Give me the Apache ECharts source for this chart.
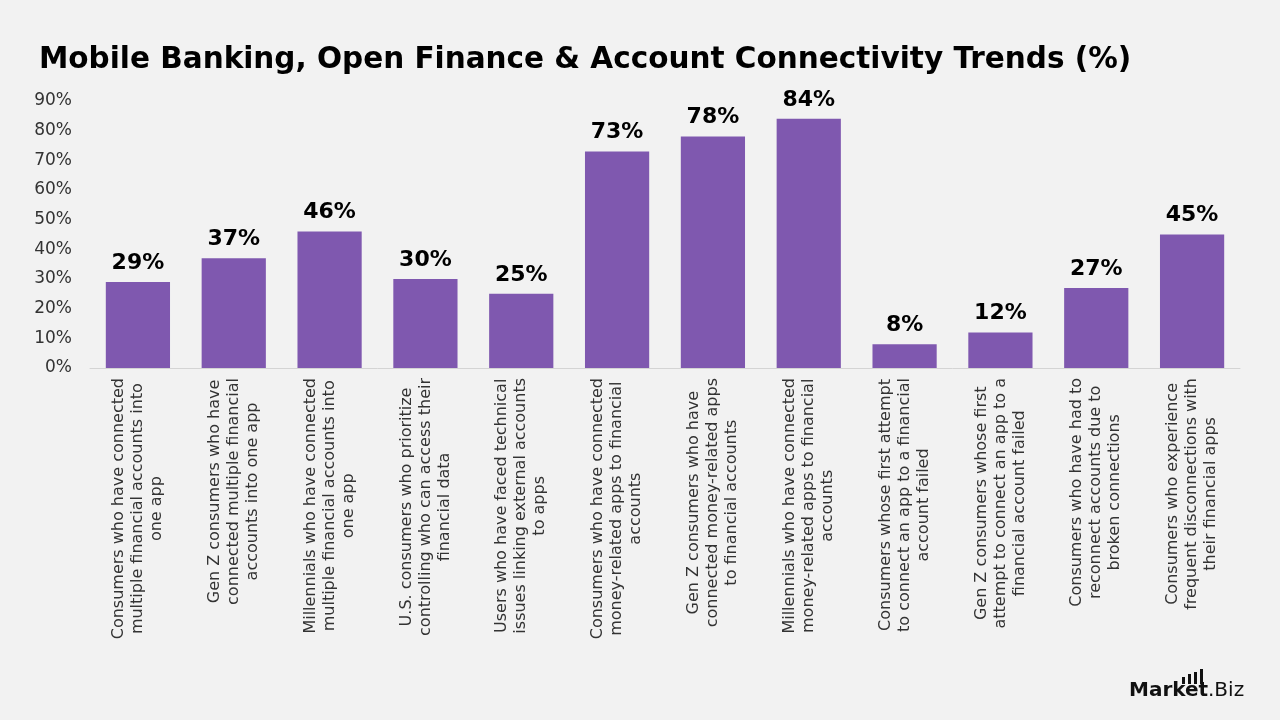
<!DOCTYPE html>
<html lang="en">

<head>
    <meta charset="UTF-8">
    <script src="https://cdn.jsdelivr.net/npm/echarts@6/dist/echarts.min.js"></script>
    <title>Mobile Banking Trends</title>
    <style>
        body { margin: 0; background: #f2f2f2; }
        #main { width: 1280px; height: 720px; }
    </style>
</head>

<body>
    <div id="main"></div>

    <script>
        // category labels, already broken into the lines used in the picture
        var categories = [
            'Consumers who have connected\nmultiple financial accounts into\none app',
            'Gen Z consumers who have\nconnected multiple financial\naccounts into one app',
            'Millennials who have connected\nmultiple financial accounts into\none app',
            'U.S. consumers who prioritize\ncontrolling who can access their\nfinancial data',
            'Users who have faced technical\nissues linking external accounts\nto apps',
            'Consumers who have connected\nmoney-related apps to financial\naccounts',
            'Gen Z consumers who have\nconnected money-related apps\nto financial accounts',
            'Millennials who have connected\nmoney-related apps to financial\naccounts',
            'Consumers whose first attempt\nto connect an app to a financial\naccount failed',
            'Gen Z consumers whose first\nattempt to connect an app to a\nfinancial account failed',
            'Consumers who have had to\nreconnect accounts due to\nbroken connections',
            'Consumers who experience\nfrequent disconnections with\ntheir financial apps'
        ];
        var values = [29, 37, 46, 30, 25, 73, 78, 84, 8, 12, 27, 45];
        var yTicks = [0, 10, 20, 30, 40, 50, 60, 70, 80, 90];

        var font = 'DejaVu Sans';
        var myChart = echarts.init(document.getElementById('main'));

        var option = {
            backgroundColor: '#f2f2f2',
            animation: false,
            title: {
                text: 'Mobile Banking, Open Finance & Account Connectivity Trends (%)',
                left: 34,
                top: 40,
                textStyle: { fontFamily: font, fontSize: 29.5, fontWeight: 'bold', color: '#000' }
            },
            grid: { left: 90, right: 40, top: 101, bottom: 352 },
            xAxis: {
                type: 'category',
                data: categories,
                axisLine: { lineStyle: { color: '#d4d4d4' } },
                axisTick: { show: false },
                axisLabel: {
                    interval: 0,
                    rotate: 90,
                    margin: 10,
                    formatter: function (v) {
                        return v.split('\n').map(function (s) { return '{c|' + s + '}'; }).join('\n');
                    },
                    rich: {
                        c: { fontFamily: font, fontSize: 16, color: '#333', align: 'center', lineHeight: 19 }
                    }
                }
            },
            yAxis: {
                type: 'value',
                min: yTicks[0],
                max: yTicks[yTicks.length - 1],
                interval: 10,
                splitLine: { show: false },
                axisLine: { show: false },
                axisLabel: {
                    margin: 18,
                    fontFamily: font,
                    fontSize: 17,
                    color: '#333',
                    formatter: '{value}%'
                }
            },
            series: [{
                type: 'bar',
                data: values,
                barCategoryGap: '33%',
                itemStyle: { color: '#7f58af' },
                label: {
                    show: true,
                    position: 'top',
                    distance: 8,
                    formatter: '{c}%',
                    fontFamily: font,
                    fontSize: 22,
                    fontWeight: 'bold',
                    color: '#000'
                }
            }],
            graphic: [
                { type: 'text', left: 1129, top: 681, style: { text: 'Market', fontFamily: font, fontSize: 20, fontWeight: 'bold', fill: '#111' } },
                { type: 'text', left: 1208, top: 681, style: { text: '.Biz', fontFamily: font, fontSize: 20, fill: '#111' } },
                { type: 'rect', shape: { x: 1182, y: 677, width: 3, height: 7 }, style: { fill: '#111' } },
                { type: 'rect', shape: { x: 1188, y: 674, width: 3, height: 10 }, style: { fill: '#111' } },
                { type: 'rect', shape: { x: 1194, y: 672, width: 3, height: 12 }, style: { fill: '#111' } },
                { type: 'rect', shape: { x: 1200, y: 669, width: 3, height: 15 }, style: { fill: '#111' } }
            ]
        };

        myChart.setOption(option);
    </script>
</body>

</html>
